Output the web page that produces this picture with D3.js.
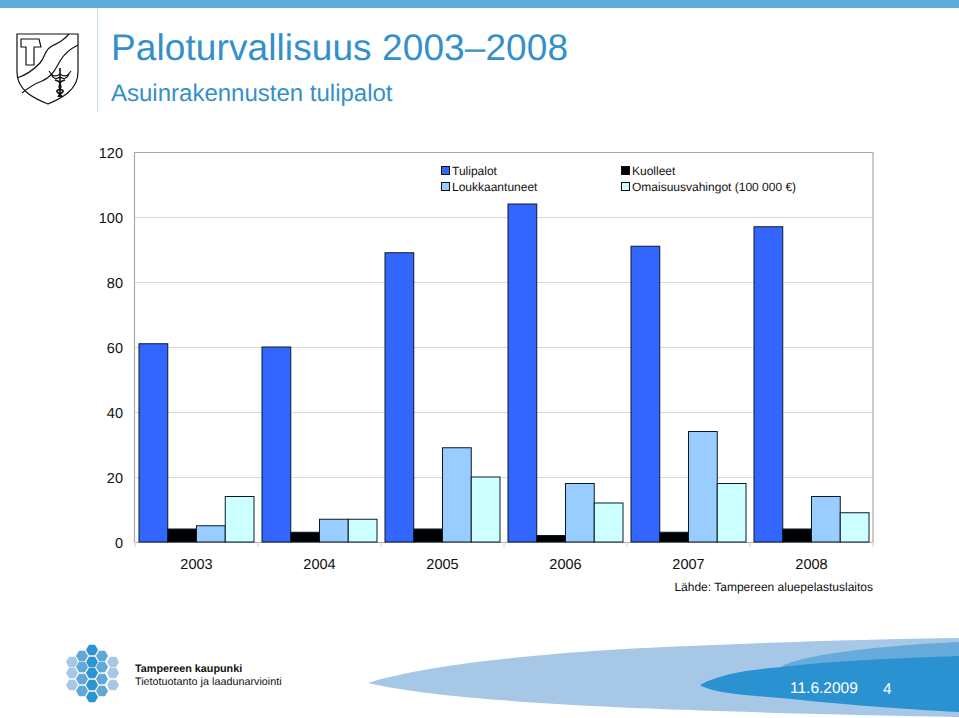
<!DOCTYPE html>
<html><head><meta charset="utf-8">
<script src="https://cdnjs.cloudflare.com/ajax/libs/d3/7.8.5/d3.min.js"></script>
<style>html,body{margin:0;padding:0;background:#fff}svg{display:block}text{font-family:"Liberation Sans",Arial,sans-serif;text-rendering:geometricPrecision}</style>
</head><body><svg id="c" width="959" height="718"></svg>
<script>
const years=["2003","2004","2005","2006","2007","2008"];
const seriesNames=["Tulipalot","Kuolleet","Loukkaantuneet","Omaisuusvahingot (100 000 €)"];
const tulipalot=[61,60,89,104,91,97];
const kuolleet=[4,3,4,2,3,4];
const loukkaantuneet=[5,7,29,18,34,14];
const omaisuusvahingot=[14,7,20,12,18,9];
const colors=["#3366ff","#000000","#99ccff","#ccffff"];
const yTicks=[0,20,40,60,80,100,120];

const svg=d3.select("#c");
const x=d3.scaleBand().domain(years).range([135,873]).paddingInner(0).paddingOuter(0);
const y=d3.scaleLinear().domain([0,120]).range([542,152]);
const series=[tulipalot,kuolleet,loukkaantuneet,omaisuusvahingot];
const inner=d3.scaleBand().domain(d3.range(4)).range([4,119]);

// header
svg.append("rect").attr("x",0).attr("y",0).attr("width",959).attr("height",8).attr("fill","#5fadda");
svg.append("line").attr("x1",97.5).attr("x2",97.5).attr("y1",8).attr("y2",112).attr("stroke","#c5dff0").attr("stroke-width",1);
svg.append("text").attr("x",111).attr("y",60).attr("font-size",37).attr("fill","#3490ca").attr("textLength",457).attr("lengthAdjust","spacing").text("Paloturvallisuus 2003–2008");
svg.append("text").attr("x",111).attr("y",101).attr("font-size",24).attr("fill","#3490ca").text("Asuinrakennusten tulipalot");

// crest
const crest=svg.append("g").attr("fill","none").attr("stroke","#111");
crest.append("path").attr("stroke-width",1.2).attr("fill","#fff").attr("d","M17,34 H78 V72 C78,90 62,98 48,104 C33,98 17,90 17,72 Z");
crest.append("path").attr("stroke-width",1.2).attr("d","M17,78 C24,76 34,70 40,63 C46,56 44,50 52,46 C60,42 64,40 69,34");
crest.append("path").attr("stroke-width",1.2).attr("d","M22,93 C28,88 34,84 42,81 C52,77 56,68 60,61 C64,54 70,49 78,45");
crest.append("path").attr("stroke-width",1.2).attr("d","M21,39 H39 L41,47 H34 V65 H26 V47 H21 Z");
crest.append("path").attr("stroke-width",1.2).attr("d","M49,71 C53,77 56,77 60,74 M71,71 C67,77 64,77 60,74 M51,74 C54,80 57,79 60,77 M69,74 C66,80 63,79 60,77");
crest.append("path").attr("stroke-width",1.6).attr("d","M60,68 V97 M55,80 C66,83 54,87 62,90 C66,92 58,94 58,97 M65,80 C54,83 66,87 58,90 C54,92 62,94 62,97");

// chart frame + gridlines
const g=svg.append("g");
g.selectAll("line.grid").data(yTicks.slice(1,-1)).join("line").attr("x1",135).attr("x2",873).attr("y1",d=>y(d)+.5).attr("y2",d=>y(d)+.5).attr("stroke","#d9d9d9");
g.append("path").attr("d",`M134.5,${y(0)} V${y(120)+.5} H873 V${y(0)}`).attr("fill","none").attr("stroke","#aaa").attr("stroke-width",1.2);
g.append("line").attr("x1",135).attr("x2",873).attr("y1",542.5).attr("y2",542.5).attr("stroke","#aaa");
const xTicks=[...years.map(d=>x(d)),873];
g.selectAll("line.tx").data(xTicks).join("line").attr("x1",d=>d).attr("x2",d=>d).attr("y1",542).attr("y2",547).attr("stroke","#d0d0d0");
g.selectAll("text.yl").data(yTicks).join("text").attr("x",123).attr("y",d=>y(d)+5.5).attr("text-anchor","end").attr("font-size",14.5).attr("fill","#111").text(d=>d);
g.selectAll("text.xl").data(years).join("text").attr("x",d=>x(d)+x.bandwidth()/2).attr("y",569).attr("text-anchor","middle").attr("font-size",14.5).attr("fill","#111").text(d=>d);

// bars
series.forEach((vals,i)=>{
  g.append("g").selectAll("rect").data(vals).join("rect")
    .attr("x",(d,j)=>x(years[j])+inner(i)).attr("width",inner.bandwidth())
    .attr("y",d=>y(d)).attr("height",d=>y(0)-y(d))
    .attr("fill",colors[i]).attr("stroke","#0a1a2a").attr("stroke-width",1);
});

// legend
const lx=[441,621,441,621], ly=[171,171,187,187];
const lg=svg.append("g");
seriesNames.forEach((n,i)=>{
  lg.append("rect").attr("x",lx[i]+.5).attr("y",ly[i]-4.5).attr("width",8).attr("height",8).attr("fill",colors[i]).attr("stroke","#111");
  lg.append("text").attr("x",lx[i]+11).attr("y",ly[i]+4).attr("font-size",12).attr("fill","#111").text(n);
});
svg.append("text").attr("x",873).attr("y",591).attr("text-anchor","end").attr("font-size",12).attr("fill","#111").text("Lähde: Tampereen aluepelastuslaitos");

// footer swooshes
svg.append("path").attr("fill","#a6c7e5").attr("d","M368,683 C440,660 600,649 690,646 C780,642 880,639 959,638 V717 C860,715 770,713 690,710 C600,707 440,700 368,683 Z");
svg.append("path").attr("fill","#66abdb").attr("d","M781,667 C800,654 890,645 959,642 V680 H781 Z");
svg.append("path").attr("fill","#2a92d0").attr("d","M700,685 C722,672 760,669 781,667 C830,661 900,658 959,656 V712 C900,709 850,705 781,698 C745,695 712,693 700,685 Z");
svg.append("text").attr("x",790).attr("y",693).attr("font-size",15.5).attr("fill","#fff").text("11.6.2009");
svg.append("text").attr("x",883).attr("y",694).attr("font-size",15.5).attr("fill","#fff").text("4");

// hex logo
const hexCells=[[72,662,0],[72,673,0],[72,685,0],[82,656,1],[82,667,1],[82,679,1],[82,691,1],[92,650,2],[92,662,2],[92,673,2],[92,685,2],[92,697,2],[102,656,1],[102,667,1],[102,679,1],[102,691,1],[113,662,0],[113,673,0],[113,685,0]];
const hexColor=["#a6c7e5","#60a8d8","#2d93d1"];
const hex=d3.range(6).map(k=>{const a=k*Math.PI/3;return [6*Math.cos(a),6*Math.sin(a)];});
svg.append("g").selectAll("path").data(hexCells).join("path")
  .attr("d",d=>"M"+hex.map(p=>[p[0]+d[0],p[1]+d[1]].join(",")).join("L")+"Z")
  .attr("fill",d=>hexColor[d[2]]);
svg.append("text").attr("x",135).attr("y",672).attr("font-size",10.8).attr("font-weight","bold").attr("fill","#111").text("Tampereen kaupunki");
svg.append("text").attr("x",135).attr("y",685).attr("font-size",10.8).attr("fill","#111").text("Tietotuotanto ja laadunarviointi");
</script></body></html>
